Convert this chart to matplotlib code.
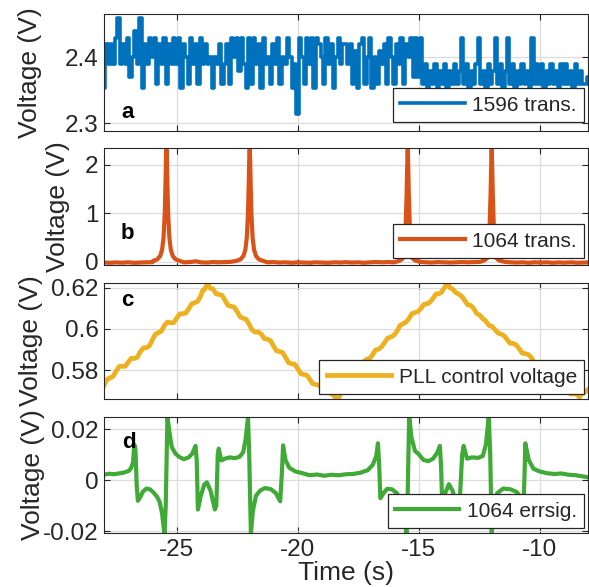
import numpy as np
import matplotlib
matplotlib.use('Agg')
import matplotlib.pyplot as plt

plt.rcParams['font.family'] = ['Liberation Sans', 'DejaVu Sans']
plt.rcParams['axes.unicode_minus'] = False

# Panel a: 1596 transmission, muestreado cada 0.1 s desde -28 s hasta -8 s
v_1596 = [
    2.353, 2.42, 2.39, 2.42, 2.39, 2.43, 2.46, 2.39, 2.42, 2.39,
    2.43, 2.37, 2.40, 2.44, 2.39, 2.46, 2.353, 2.42, 2.39, 2.43,
    2.40, 2.43, 2.36, 2.42, 2.39, 2.43, 2.36, 2.42, 2.39, 2.43,
    2.39, 2.43, 2.353, 2.42, 2.40, 2.36, 2.43, 2.39, 2.42, 2.36,
    2.43, 2.39, 2.42, 2.39, 2.40, 2.353, 2.40, 2.39, 2.42, 2.36,
    2.39, 2.42, 2.36, 2.43, 2.40, 2.43, 2.38, 2.43, 2.39, 2.353,
    2.43, 2.36, 2.43, 2.39, 2.42, 2.353, 2.43, 2.39, 2.40, 2.36,
    2.42, 2.39, 2.43, 2.36, 2.40, 2.39, 2.43, 2.40, 2.353, 2.39,
    2.314, 2.43, 2.40, 2.36, 2.43, 2.39, 2.43, 2.353, 2.43, 2.42,
    2.40, 2.36, 2.43, 2.39, 2.42, 2.353, 2.40, 2.43, 2.39, 2.42,
    2.42, 2.39, 2.42, 2.36, 2.41, 2.353, 2.42, 2.43, 2.36, 2.40,
    2.43, 2.353, 2.40, 2.36, 2.41, 2.39, 2.42, 2.36, 2.43, 2.40,
    2.36, 2.42, 2.39, 2.43, 2.36, 2.42, 2.40, 2.43, 2.37, 2.43,
    2.37, 2.43, 2.36, 2.39, 2.353, 2.38, 2.36, 2.39, 2.355, 2.38,
    2.36, 2.39, 2.355, 2.38, 2.36, 2.39, 2.36, 2.38, 2.43, 2.36,
    2.39, 2.355, 2.38, 2.36, 2.39, 2.43, 2.36, 2.38, 2.355, 2.39,
    2.36, 2.38, 2.43, 2.36, 2.39, 2.355, 2.38, 2.43, 2.36, 2.39,
    2.355, 2.38, 2.36, 2.39, 2.36, 2.38, 2.355, 2.43, 2.36, 2.39,
    2.36, 2.39, 2.355, 2.38, 2.36, 2.39, 2.36, 2.38, 2.355, 2.39,
    2.36, 2.39, 2.36, 2.38, 2.355, 2.39, 2.36, 2.38, 2.36, 2.36,
    2.37,
]
t_1596 = np.linspace(-28, -8, len(v_1596))

# Panel b: 1064 transmission (picos en -25.42, -21.98, -15.45, -11.98)
t_1064 = [
    -28.0, -27.75, -27.5, -27.25, -27.0, -26.75, -26.5, -26.25, -26.0,
    -25.97, -25.80, -25.68, -25.60, -25.54, -25.49, -25.46, -25.44, -25.42,
    -25.40, -25.38, -25.35, -25.30, -25.24, -25.16, -25.04, -24.87,
    -24.7, -24.45, -24.2, -24.0, -23.75, -23.5, -23.25, -23.0, -22.75,
    -22.53, -22.36, -22.24, -22.16, -22.10, -22.05, -22.02, -22.00, -21.98,
    -21.96, -21.94, -21.91, -21.86, -21.80, -21.72, -21.60, -21.43,
    -21.25, -21.0, -20.75, -20.5, -20.25, -20.0, -19.75, -19.5, -19.25,
    -19.0, -18.75, -18.5, -18.25, -18.0, -17.75, -17.5, -17.25, -17.0, -16.75,
    -16.5, -16.25, -16.0,
    -15.75, -15.63, -15.58, -15.55, -15.52, -15.495, -15.47, -15.45,
    -15.43, -15.405, -15.38, -15.35, -15.32, -15.27, -15.15,
    -14.95, -14.7, -14.45, -14.2, -13.95, -13.7, -13.45, -13.2, -12.95, -12.7,
    -12.45,
    -12.28, -12.16, -12.11, -12.08, -12.05, -12.025, -12.00, -11.98,
    -11.96, -11.935, -11.91, -11.88, -11.85, -11.80, -11.68,
    -11.45, -11.2, -10.95, -10.7, -10.45, -10.2, -9.95, -9.7, -9.45, -9.2,
    -8.95, -8.7, -8.45, -8.2, -8.0,
]
v_1064 = [
    -0.015, -0.02, -0.012, -0.018, -0.01, -0.02, -0.015, -0.01, -0.008,
    0.02, 0.05, 0.12, 0.25, 0.5, 1.0, 1.6, 2.1, 2.32,
    2.1, 1.6, 1.0, 0.5, 0.25, 0.12, 0.05, 0.02,
    -0.01, -0.005, 0.01, -0.01, -0.015, -0.005, -0.01, -0.005, 0.0,
    0.02, 0.05, 0.12, 0.25, 0.5, 1.0, 1.6, 2.1, 2.32,
    2.1, 1.6, 1.0, 0.5, 0.25, 0.12, 0.05, 0.02,
    -0.01, -0.005, -0.015, -0.01, -0.02, -0.01, -0.015, -0.02, -0.01,
    -0.015, -0.02, -0.01, -0.015, -0.008, -0.015, -0.01, -0.02, -0.01, -0.005,
    -0.01, -0.005, -0.01,
    0.03, 0.08, 0.2, 0.5, 1.0, 1.4, 2.0, 2.32,
    2.0, 1.4, 1.0, 0.5, 0.2, 0.08, 0.03,
    0.0, -0.01, -0.015, -0.005, -0.01, -0.015, -0.01, -0.005, -0.01, -0.005,
    0.0,
    0.03, 0.08, 0.2, 0.5, 1.0, 1.4, 2.0, 2.32,
    2.0, 1.4, 1.0, 0.5, 0.2, 0.08, 0.03,
    0.0, -0.01, -0.015, -0.01, -0.02, -0.01, -0.015, -0.01, -0.02, -0.012,
    -0.018, -0.01, -0.02, -0.015, -0.012,
]

# Panel c: PLL control voltage
t_pll = [
    -28.000, -27.875, -27.750, -27.625, -27.500, -27.375, -27.250, -27.125,
    -27.000, -26.875, -26.750, -26.625, -26.500, -26.375, -26.250, -26.125,
    -26.000, -25.875, -25.750, -25.625, -25.500, -25.375, -25.250, -25.125,
    -25.000, -24.875, -24.750, -24.625, -24.500, -24.375, -24.250, -24.125,
    -24.000, -23.925, -23.850, -23.720, -23.610, -23.500, -23.375, -23.250,
    -23.125, -23.000, -22.875, -22.750, -22.625, -22.500, -22.375, -22.250,
    -22.125, -22.000, -21.875, -21.750, -21.625, -21.500, -21.375, -21.250,
    -21.125, -21.000, -20.875, -20.750, -20.625, -20.500, -20.375, -20.250,
    -20.125, -20.000, -19.875, -19.750, -19.625, -19.500, -19.375, -19.250,
    -19.125, -19.000, -18.875, -18.750, -18.625, -18.500, -18.400, -18.300,
    -18.200, -18.100, -18.000, -17.900, -17.775, -17.650, -17.525, -17.400,
    -17.275, -17.150, -17.025, -16.900, -16.775, -16.650, -16.525, -16.400,
    -16.275, -16.150, -16.025, -15.900, -15.775, -15.650, -15.525, -15.400,
    -15.275, -15.150, -15.025, -14.900, -14.775, -14.650, -14.525, -14.400,
    -14.275, -14.150, -14.050, -13.950, -13.800, -13.700, -13.600, -13.475,
    -13.350, -13.225, -13.100, -12.975, -12.850, -12.725, -12.600, -12.475,
    -12.350, -12.225, -12.100, -11.975, -11.850, -11.725, -11.600, -11.475,
    -11.350, -11.225, -11.100, -10.975, -10.850, -10.725, -10.600, -10.475,
    -10.350, -10.225, -10.100, -9.975, -9.850, -9.725, -9.600, -9.475,
    -9.350, -9.225, -9.100, -8.975, -8.850, -8.725, -8.600, -8.475,
    -8.350, -8.250, -8.150, -8.000,
]
v_pll = [
    0.5725, 0.5754, 0.5762, 0.5769, 0.5795, 0.5817, 0.5818, 0.5818,
    0.5838, 0.5857, 0.5856, 0.5862, 0.5889, 0.5908, 0.5908, 0.5918,
    0.5948, 0.5975, 0.5982, 0.5990, 0.6018, 0.6034, 0.6030, 0.6031,
    0.6052, 0.6073, 0.6075, 0.6077, 0.6098, 0.6123, 0.6128, 0.6135,
    0.6162, 0.6187, 0.6192, 0.6220, 0.6198, 0.6195, 0.6172, 0.6168,
    0.6164, 0.6140, 0.6115, 0.6110, 0.6107, 0.6085, 0.6059, 0.6052,
    0.6047, 0.6022, 0.5994, 0.5985, 0.5985, 0.5975, 0.5953, 0.5950,
    0.5944, 0.5918, 0.5894, 0.5890, 0.5886, 0.5862, 0.5836, 0.5830,
    0.5829, 0.5808, 0.5783, 0.5778, 0.5776, 0.5755, 0.5733, 0.5730,
    0.5726, 0.5712, 0.5691, 0.5690, 0.5687, 0.5675, 0.5660, 0.5665,
    0.5688, 0.5692, 0.5716, 0.5730, 0.5762, 0.5775, 0.5800, 0.5810,
    0.5840, 0.5852, 0.5856, 0.5875, 0.5898, 0.5902, 0.5914, 0.5935,
    0.5956, 0.5960, 0.5969, 0.5988, 0.6016, 0.6025, 0.6033, 0.6050,
    0.6075, 0.6080, 0.6085, 0.6100, 0.6121, 0.6122, 0.6131, 0.6150,
    0.6171, 0.6172, 0.6180, 0.6198, 0.6225, 0.6200, 0.6195, 0.6178,
    0.6170, 0.6160, 0.6140, 0.6118, 0.6115, 0.6100, 0.6075, 0.6068,
    0.6050, 0.6039, 0.6018, 0.6013, 0.5998, 0.5981, 0.5975, 0.5968,
    0.5950, 0.5930, 0.5930, 0.5923, 0.5905, 0.5883, 0.5880, 0.5876,
    0.5862, 0.5836, 0.5830, 0.5819, 0.5798, 0.5774, 0.5770, 0.5762,
    0.5745, 0.5722, 0.5720, 0.5715, 0.5700, 0.5683, 0.5685, 0.5682,
    0.5668, 0.5686, 0.5690, 0.5705,
]

# Panel d: 1064 error signal
t_err = [
    -28.0, -27.8, -27.6, -27.4, -27.2, -27.0, -26.9, -26.8, -26.75, -26.70,
    -26.65, -26.60, -26.50, -26.40, -26.25, -26.10, -25.95, -25.80, -25.70, -25.60,
    -25.50, -25.45, -25.38, -25.30, -25.20, -25.05, -24.90, -24.70, -24.50, -24.35,
    -24.22, -24.17, -24.12, -24.00, -23.85, -23.75, -23.60, -23.42, -23.36, -23.30,
    -23.26, -23.15, -23.00, -22.80, -22.60, -22.40, -22.25, -22.15, -22.05, -22.00,
    -21.93, -21.85, -21.72, -21.55, -21.35, -21.10, -20.90, -20.72, -20.65, -20.60,
    -20.50, -20.35, -20.10, -19.80, -19.50, -19.20, -18.90, -18.60, -18.30, -18.00,
    -17.70, -17.40, -17.10, -16.90, -16.75, -16.68, -16.63, -16.58, -16.45, -16.30,
    -16.10, -15.90, -15.70, -15.58, -15.50, -15.45, -15.39, -15.30, -15.15, -15.00,
    -14.80, -14.60, -14.40, -14.22, -14.12, -14.07, -14.02, -13.90, -13.75, -13.60,
    -13.38, -13.30, -13.20, -13.14, -13.00, -12.80, -12.55, -12.35, -12.22, -12.10,
    -12.04, -11.98, -11.90, -11.75, -11.50, -11.20, -10.95, -10.75, -10.66, -10.62,
    -10.59, -10.45, -10.25, -10.00, -9.70, -9.40, -9.10, -8.80, -8.50, -8.20,
    -8.00,
]
v_err = [
    0.0022, 0.0026, 0.0024, 0.0027, 0.0030, 0.0036, 0.0045, 0.0070, 0.0140, 0.0120,
    -0.0020, -0.0080, -0.0065, -0.0045, -0.0032, -0.0035, -0.0048, -0.0065, -0.0085, -0.0130,
    -0.0213, -0.0100, 0.0250, 0.0190, 0.0130, 0.0105, 0.0092, 0.0083, 0.0090, 0.0105,
    0.0135, 0.0080, -0.0114, -0.0060, -0.0015, -0.0008, -0.0040, -0.0114, -0.0100, 0.0100,
    0.0124, 0.0078, 0.0085, 0.0090, 0.0087, 0.0092, 0.0110, 0.0160, 0.0245, 0.0100,
    -0.0210, -0.0120, -0.0060, -0.0040, -0.0030, -0.0035, -0.0050, -0.0082, 0.0030, 0.0137,
    0.0080, 0.0050, 0.0035, 0.0028, 0.0020, 0.0023, 0.0018, 0.0022, 0.0020, 0.0024,
    0.0025, 0.0030, 0.0040, 0.0060, 0.0095, 0.0145, 0.0060, -0.0070, -0.0050, -0.0033,
    -0.0035, -0.0050, -0.0085, -0.0140, -0.0212, -0.0050, 0.0253, 0.0170, 0.0115, 0.0103,
    0.0080, 0.0075, 0.0085, 0.0110, 0.0135, 0.0050, -0.0110, -0.0050, -0.0015, -0.0040,
    -0.0112, -0.0080, 0.0100, 0.0135, 0.0085, 0.0090, 0.0088, 0.0095, 0.0140, 0.0250,
    0.0100, -0.0210, -0.0110, -0.0050, -0.0032, -0.0035, -0.0045, -0.0070, -0.0085, 0.0030,
    0.0145, 0.0080, 0.0045, 0.0035, 0.0028, 0.0025, 0.0027, 0.0022, 0.0020, 0.0015,
    0.0012,
]

series = [(t_1596, v_1596), (t_1064, v_1064), (t_pll, v_pll), (t_err, v_err)]
nombres = ['1596 trans.', '1064 trans.', 'PLL control voltage', '1064 errsig.']
letras = ['a', 'b', 'c', 'd']
colores = ['#0072BD', '#D95319', '#EDB120', '#3FAA35']
limites_y = [(2.288, 2.466), (-0.065, 2.35), (0.5659, 0.6224), (-0.0206, 0.0248)]
ticks_y = [[2.3, 2.4], [0, 1, 2], [0.58, 0.6, 0.62], [-0.02, 0, 0.02]]
etiquetas_y = [['2.3', '2.4'], ['0', '1', '2'], ['0.58', '0.6', '0.62'], ['-0.02', '0', '0.02']]
ticks_x = [-25, -20, -15, -10]
etiquetas_x = ['-25', '-20', '-15', '-10']

# posiciones de cada panel (fraccion de figura)
izq, ancho = 0.1766, 0.8217
posiciones = [(0.7768, 0.1993), (0.5486, 0.1993), (0.3203, 0.1976), (0.0920, 0.1976)]
letra_pos = [(0.035, 0.16), (0.035, 0.265), (0.035, 0.845), (0.037, 0.78)]
label_x = [-0.128, -0.070, -0.126, -0.122]
leyenda_y = [0.077, 0.06, 0.043, 0.043]
grosor = [2.6, 3.0, 3.4, 3.0]
estilo = ['steps-mid', 'default', 'default', 'default']

fig = plt.figure(figsize=(5.89, 5.87), dpi=100)
gris = '#262626'

for i in range(4):
    b, h = posiciones[i]
    ax = fig.add_axes([izq, b, ancho, h])
    t, v = series[i]
    ax.plot(t, v, color=colores[i], linewidth=grosor[i], drawstyle=estilo[i],
            label=nombres[i])
    ax.set_xlim(-28, -8)
    ax.set_ylim(*limites_y[i])
    ax.set_yticks(ticks_y[i])
    ax.set_yticklabels(etiquetas_y[i])
    ax.set_xticks(ticks_x)
    if i == 3:
        ax.set_xticklabels(etiquetas_x)
        ax.set_xlabel('Time (s)', fontsize=19, color=gris, labelpad=0)
    else:
        ax.set_xticklabels([])
    ax.grid(True, color='#dcdcdc', linewidth=0.9)
    ax.set_axisbelow(True)
    ax.tick_params(direction='in', top=True, right=True, length=4, width=0.8,
                   color=gris, labelcolor=gris, labelsize=17.5, pad=4)
    for s in ax.spines.values():
        s.set_color(gris)
        s.set_linewidth(0.8)
    ax.set_ylabel('Voltage (V)', fontsize=19, color=gris)
    ax.yaxis.set_label_coords(label_x[i], 0.5)
    ax.text(letra_pos[i][0], letra_pos[i][1], letras[i], transform=ax.transAxes,
            fontsize=16, fontweight='bold', ha='left', va='center')
    leg = ax.legend(loc='lower right', bbox_to_anchor=(0.992, leyenda_y[i]),
                    borderaxespad=0, fontsize=15, handlelength=3.1,
                    handletextpad=0.35, borderpad=0.35, fancybox=False,
                    framealpha=1, edgecolor=gris)
    leg.get_frame().set_linewidth(0.9)
    for txt in leg.get_texts():
        txt.set_color(gris)

fig.savefig('out.png', dpi=100)
